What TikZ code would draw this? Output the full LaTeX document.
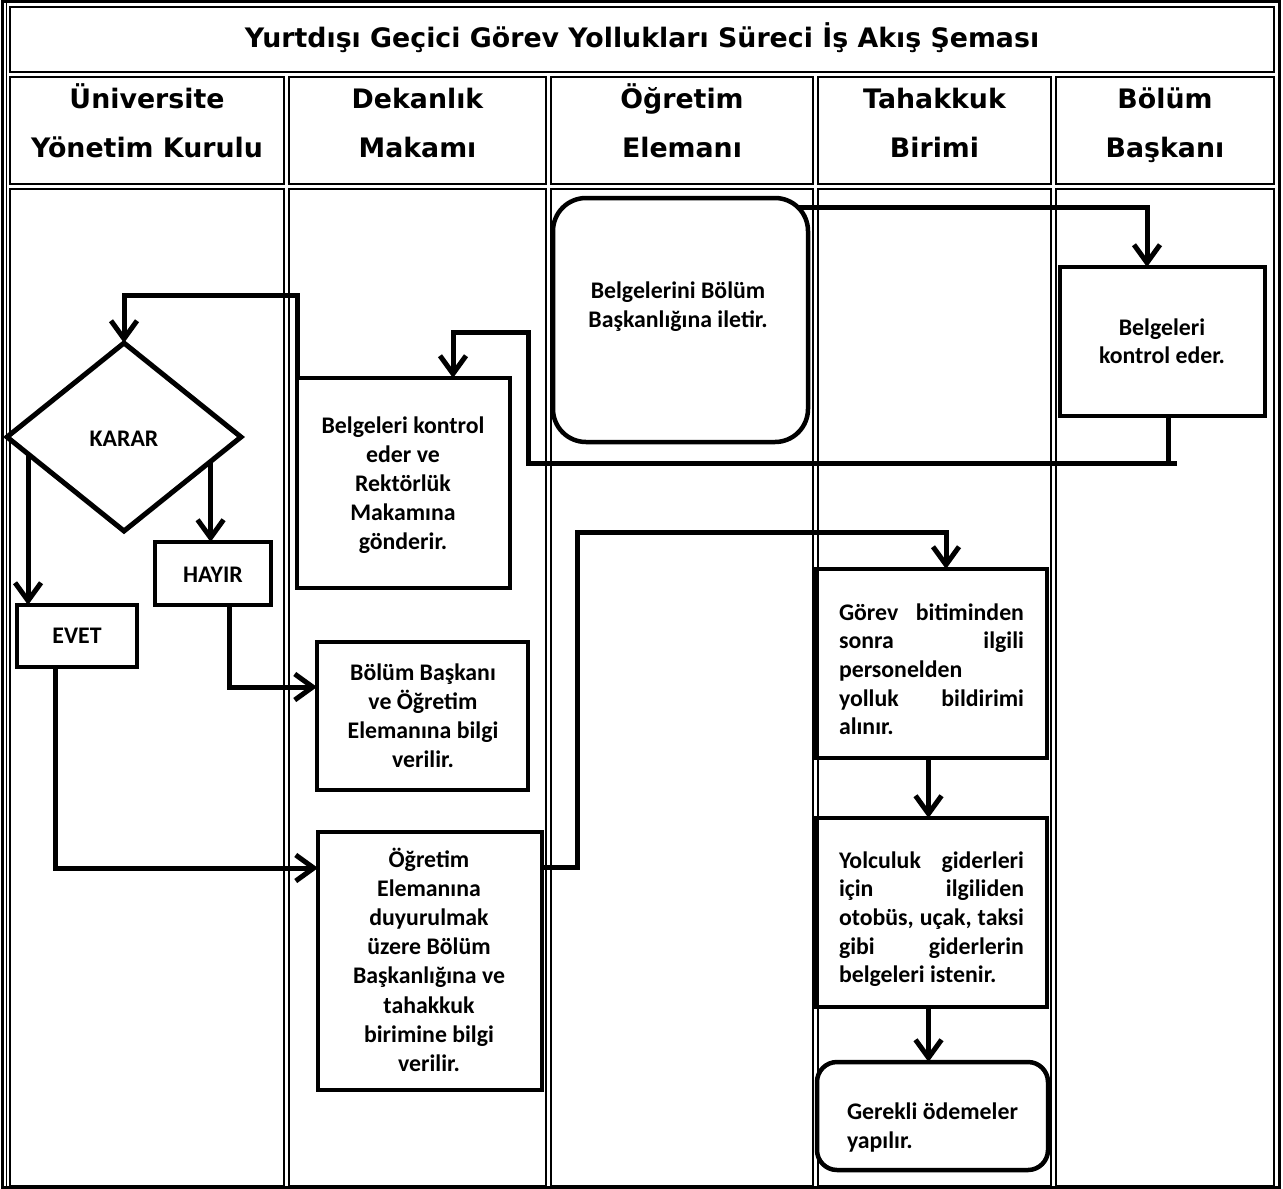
\documentclass[tikz,border=0pt]{standalone}
\usepackage{fontspec}
\setmainfont{Carlito}
\newfontfamily\hdrfont{DejaVu Sans}
\usetikzlibrary{arrows.meta,shapes.geometric,calc}
\newcommand\cstack[1]{\vtop{\halign{\hfil##\hfil\cr#1\crcr}}}
\newcommand\lstack[1]{\vtop{\halign{##\hfil\cr#1\crcr}}}
\newcommand\jline[1]{\hbox to 185pt{#1}}
\begin{document}
\begin{tikzpicture}[x=1pt,y=-1pt,
  cell/.style={draw,line width=2pt},
  box/.style={draw,line width=4.5pt,rectangle,inner sep=0pt,outer sep=0pt},
  conn/.style={line width=5pt},
  arr/.style={-{Straight Barb[length=18pt,width=26pt]}},
  txt/.style={inner sep=0pt,outer sep=0pt,anchor=base,font=\bfseries\fontsize{23.8}{29.2}\selectfont},
  ltxt/.style={txt,anchor=base west},
  hdr/.style={inner sep=0pt,outer sep=0pt,anchor=base,font=\hdrfont\bfseries\fontsize{26.8}{49}\selectfont}]
\useasboundingbox (0,0) rectangle (1283,1189);
\fill[white] (0,0) rectangle (1283,1189);
% table frame
\draw[line width=3pt] (2.5,1.5) rectangle (1279.5,1187.5);
\draw[line width=1.5pt] (6.5,1.5) -- (6.5,1187.5);
\draw[cell] (10,6.5) rectangle (1274,72);
\foreach \a/\b in {10/284,289/546,551/813,818/1051,1056/1274}{
  \draw[cell] (\a,77) rectangle (\b,184);
  \draw[cell] (\a,189) rectangle (\b,1186);
}
% header texts
\node[hdr] (title) at (642,47) {Yurtdışı Geçici Görev Yollukları Süreci İş Akış Şeması};
\node[hdr] (h1) at (147,108) {\cstack{Üniversite\cr Yönetim Kurulu}};
\node[hdr] (h2) at (417.5,108) {\cstack{Dekanlık\cr Makamı}};
\node[hdr] (h3) at (682,108) {\cstack{Öğretim\cr Elemanı}};
\node[hdr] (h4) at (934.5,108) {\cstack{Tahakkuk\cr Birimi}};
\node[hdr] (h5) at (1165,108) {\cstack{Bölüm\cr Başkanı}};
% shapes
\node[box,diamond,line width=5pt,minimum width=234pt,minimum height=188pt] (kar) at (124,437) {};
\node[box,minimum width=116pt,minimum height=63pt] (hay) at (213,573.5) {};
\node[box,minimum width=120pt,minimum height=62pt] (eve) at (77,636) {};
\node[box,minimum width=213pt,minimum height=210pt] (b3) at (403.5,483) {};
\node[box,minimum width=211pt,minimum height=148pt] (b11) at (422.5,716) {};
\node[box,minimum width=224pt,minimum height=258pt] (b13) at (430,961) {};
\node[box,rounded corners=33pt,minimum width=255pt,minimum height=244pt] (rt) at (680.5,320) {};
\node[box,minimum width=205pt,minimum height=149pt] (bk) at (1162.5,341.5) {};
\node[box,minimum width=231pt,minimum height=189pt] (gor) at (931.5,663.5) {};
\node[box,minimum width=231pt,minimum height=189pt] (yol) at (931.5,912.5) {};
\node[box,rounded corners=20pt,minimum width=231pt,minimum height=108pt] (ger) at (932.5,1116) {};
% texts
\node[txt] (kart) at (124,446) {KARAR};
\node[txt] (hayt) at (213,582) {HAYIR};
\node[txt] (evet) at (77,643) {EVET};
\node[txt] (b3t) at (403,433) {\cstack{Belgeleri kontrol\cr eder ve\cr Rektörlük\cr Makamına\cr gönderir.}};
\node[txt] (b11t) at (423,680) {\cstack{Bölüm Başkanı\cr ve Öğretim\cr Elemanına bilgi\cr verilir.}};
\node[txt] (b13t) at (429,867) {\cstack{Öğretim\cr Elemanına\cr duyurulmak\cr üzere Bölüm\cr Başkanlığına ve\cr tahakkuk\cr birimine bilgi\cr verilir.}};
\node[txt] (rtt) at (678,298) {\cstack{Belgelerini Bölüm\cr Başkanlığına iletir.}};
\node[txt,font=\bfseries\fontsize{23.8}{28}\selectfont] (bkt) at (1162,335) {\cstack{Belgeleri\cr kontrol eder.}};
\node[ltxt,font=\bfseries\fontsize{23.8}{28.7}\selectfont] (gort) at (839,620) {\lstack{\jline{Görev\hfill bitiminden}\cr \jline{sonra\hfill ilgili}\cr personelden\cr \jline{yolluk\hfill bildirimi}\cr alınır.}};
\node[ltxt,font=\bfseries\fontsize{23.8}{28.7}\selectfont] (yolt) at (839,868) {\lstack{\jline{Yolculuk\hfill giderleri}\cr \jline{için\hfill ilgiliden}\cr \jline{otobüs,\hfill uçak,\hfill taksi}\cr \jline{gibi\hfill giderlerin}\cr belgeleri istenir.}};
\node[ltxt] (gert) at (847,1119) {\lstack{\hbox to 171pt{Gerekli\hfill ödemeler}\cr yapılır.}};
% connectors
\coordinate (j1) at (1177,463);
\coordinate (j2) at (528,332);
\coordinate (j3) at (797,207);
\coordinate (j4) at (577,532);
\draw[conn] ([xshift=5.5pt]bk.south) |- (j1);
\draw[conn,arr] (j1) -| (j2) -| ([xshift=49.5pt]b3.north);
\draw[conn,arr] (j3) -| ([xshift=-15.5pt]bk.north);
\draw[conn,arr] (b3.north west) -- ++(0,-83) -| (kar.north);
\draw[conn,arr] ($(kar.east)!0.26!(kar.south)$) coordinate (h0) -- (h0 |- hay.north);
\draw[conn,arr] ($(kar.west)!0.18!(kar.south)$) coordinate (e0) -- (e0 |- eve.north);
\draw[conn,arr] ([xshift=16pt]hay.south) |- ([yshift=29pt]b11.west);
\draw[conn,arr] ([xshift=-22pt]eve.south) |- ([yshift=93pt]b13.west);
\draw[conn,arr] ([yshift=94pt]b13.east) -| (j4) -| ([xshift=14.5pt]gor.north);
\draw[conn,arr] ([xshift=-3pt]gor.south) -- ([xshift=-3pt]yol.north);
\draw[conn,arr] ([xshift=-3pt]yol.south) -- ([xshift=-4pt]ger.north);
\end{tikzpicture}
\end{document}
